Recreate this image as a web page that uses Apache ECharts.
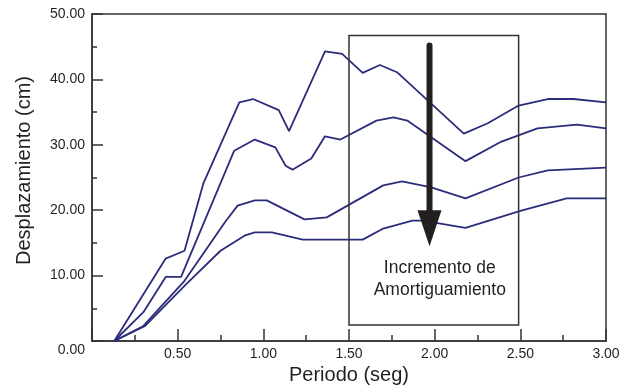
<!DOCTYPE html>
<html>
<head>
<meta charset="utf-8">
<script src="https://cdn.jsdelivr.net/npm/echarts@6/dist/echarts.min.js"></script>
<style>
html,body{margin:0;padding:0;background:#fff;}
#c{width:622px;height:387px;}
</style>
</head>
<body>
<div id="c"></div>
<script>
// ---- data ----
var xTickLabels = ['0.00','0.50','1.00','1.50','2.00','2.50','3.00'];
var yTickLabels = ['0.00','10.00','20.00','30.00','40.00','50.00'];

var s1x = [0.13,0.43,0.54,0.65,0.86,0.94,1.09,1.15,1.36,1.46,1.58,1.68,1.78,2.17,2.31,2.49,2.66,2.81,3.00];
var s1y = [0,12.6,13.8,24.1,36.5,37.0,35.3,32.1,44.3,43.9,41.0,42.2,41.1,31.7,33.3,36.0,37.0,37.0,36.5];

var s2x = [0.13,0.30,0.43,0.52,0.83,0.95,1.07,1.13,1.17,1.28,1.36,1.45,1.66,1.76,1.84,2.18,2.39,2.60,2.83,3.00];
var s2y = [0,4.4,9.8,9.8,29.1,30.8,29.6,26.8,26.2,27.9,31.3,30.8,33.7,34.2,33.7,27.5,30.5,32.5,33.1,32.5];

var s3x = [0.13,0.30,0.54,0.78,0.85,0.95,1.02,1.24,1.37,1.70,1.81,1.98,2.18,2.49,2.66,3.00];
var s3y = [0,2.3,9.2,18.3,20.7,21.5,21.5,18.6,18.9,23.8,24.4,23.5,21.8,25.0,26.1,26.5];

var s4x = [0.13,0.31,0.55,0.75,0.89,0.95,1.05,1.23,1.58,1.70,1.87,1.93,2.18,2.50,2.77,3.00];
var s4y = [0,2.3,8.7,13.8,16.1,16.6,16.6,15.5,15.5,17.2,18.4,18.4,17.3,19.9,21.8,21.8];

// annotation box (x range, y range), arrow (x, top, head base, tip), text
var boxX = [1.50, 2.49];
var boxY = [2.45, 46.7];
var arrow = [1.97, 45.2, 20.0, 14.5];
var noteText = ['Incremento de', 'Amortiguamiento'];
var notePos = [2.03, 9.5];

function pairs(xs, ys){ return xs.map(function(x,i){ return [x, ys[i]]; }); }

var lineColor = '#2b2d7c';
var ink = '#231f20';

var chart = echarts.init(document.getElementById('c'), null, {renderer:'canvas'});

function lineSeries(xs, ys){
  return {
    type:'line', data: pairs(xs, ys), symbol:'none', smooth:false,
    lineStyle:{color:lineColor, width:1.8}, z:3, animation:false
  };
}

var option = {
  animation:false,
  backgroundColor:'#fff',
  grid:{left:92, right:16, top:14, bottom:46, outerBoundsMode:'none', containLabel:false,
    show:true, borderColor:'#333', borderWidth:1.5, backgroundColor:'transparent'},
  xAxis:{
    type:'value', min:0, max:3, interval:0.5,
    name:'Periodo (seg)', nameLocation:'middle', nameGap:22,
    nameTextStyle:{fontFamily:'Liberation Sans', fontSize:20, color:ink},
    axisLine:{show:true, lineStyle:{color:'#333', width:1.5}},
    axisTick:{show:true, inside:true, length:12, lineStyle:{color:'#333', width:1.5}},
    minorTick:{show:true, splitNumber:2, length:6, lineStyle:{color:'#333', width:1.5}},
    splitLine:{show:false},
    axisLabel:{showMinLabel:false, margin:6, fontFamily:'Liberation Sans', fontSize:14, color:ink,
      formatter:function(v){ var i=Math.round(v/0.5); return xTickLabels[i]; }}
  },
  yAxis:{
    type:'value', min:0, max:50, interval:10,
    name:'Desplazamiento (cm)', nameLocation:'middle', nameGap:58,
    nameTextStyle:{fontFamily:'Liberation Sans', fontSize:20, color:ink, padding:[0,0,0,14]},
    axisLine:{show:true, lineStyle:{color:'#333', width:1.5}},
    axisTick:{show:true, inside:true, length:11, lineStyle:{color:'#333', width:1.5}},
    minorTick:{show:true, splitNumber:2, length:5, lineStyle:{color:'#333', width:1.5}},
    splitLine:{show:false},
    axisLabel:{margin:7, fontFamily:'Liberation Sans', fontSize:14, color:ink,
      formatter:function(v){ var i=Math.round(v/10); return i===0 ? '{s| }\n{z|'+yTickLabels[0]+'}' : yTickLabels[i]; },
      rich:{
        s:{fontSize:2, lineHeight:18},
        z:{fontFamily:'Liberation Sans', fontSize:14, color:ink, lineHeight:17}
      }}
  },
  series:[
    lineSeries(s1x, s1y),
    lineSeries(s2x, s2y),
    lineSeries(s3x, s3y),
    lineSeries(s4x, s4y),
    {
      type:'custom', z:4, animation:false,
      data:[[boxX[0], boxY[0], boxX[1], boxY[1]]],
      renderItem:function(params, api){
        var p0 = api.coord([api.value(0), api.value(1)]);
        var p1 = api.coord([api.value(2), api.value(3)]);
        return {type:'rect', shape:{x:p0[0], y:p1[1], width:p1[0]-p0[0], height:p0[1]-p1[1]},
          style:{fill:'none', stroke:'#333', lineWidth:1.5}};
      }
    },
    {
      type:'custom', z:5, animation:false,
      data:[arrow],
      renderItem:function(params, api){
        var top = api.coord([api.value(0), api.value(1)]);
        var base = api.coord([api.value(0), api.value(2)]);
        var tip = api.coord([api.value(0), api.value(3)]);
        return {type:'group', children:[
          {type:'line', shape:{x1:top[0], y1:top[1], x2:base[0], y2:base[1]+2},
            style:{stroke:ink, lineWidth:6, lineCap:'round'}},
          {type:'polygon', shape:{points:[[base[0]-12, base[1]],[base[0]+12, base[1]],[tip[0], tip[1]]]},
            style:{fill:ink}}
        ]};
      }
    },
    {
      type:'custom', z:5, animation:false,
      data:[notePos],
      renderItem:function(params, api){
        var p = api.coord([api.value(0), api.value(1)]);
        return {type:'text', x:p[0], y:p[1],
          style:{text:noteText.join('\n'), align:'center', verticalAlign:'middle',
            fontFamily:'Liberation Sans', fontSize:17.5, lineHeight:22, fill:ink}};
      }
    }
  ]
};
chart.setOption(option);
</script>
</body>
</html>
